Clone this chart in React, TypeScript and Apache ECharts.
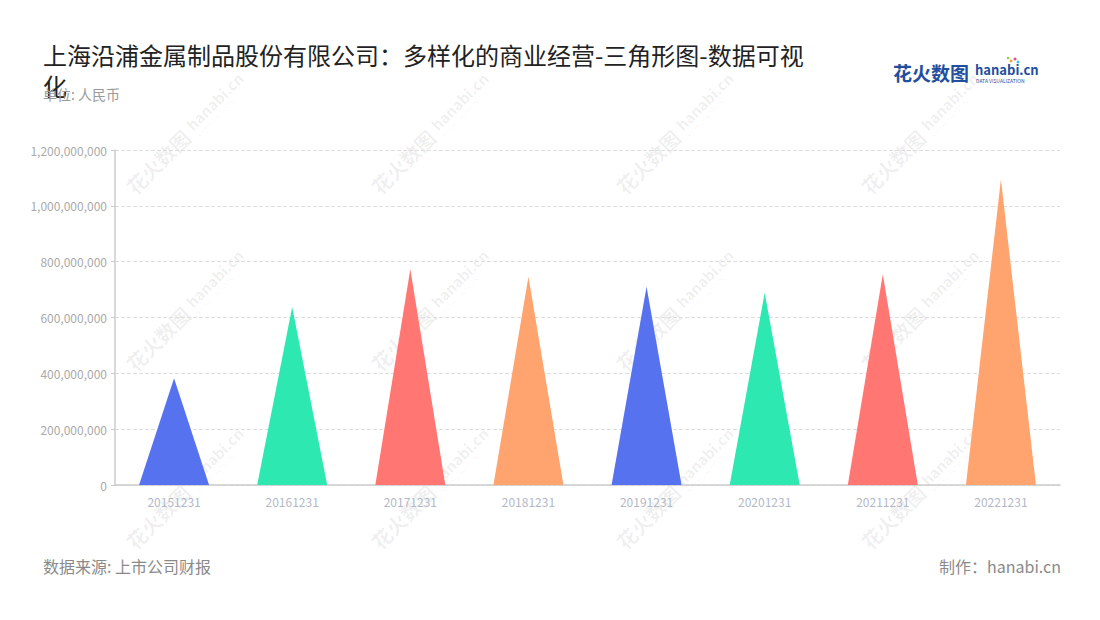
import { useEffect, useRef } from 'react';
import * as echarts from 'echarts';

// 报告期
const periods = ['20151231', '20161231', '20171231', '20181231', '20191231', '20201231', '20211231', '20221231'];
// 营业收入（元）
const revenue = [382000000, 638000000, 773000000, 746000000, 710000000, 689000000, 755000000, 1095000000];
// 三角形配色
const palette = ['#5772EF', '#2DE8B0', '#FF7672', '#FFA36F'];
// y 轴刻度
const yTicks = [0, 200000000, 400000000, 600000000, 800000000, 1000000000, 1200000000];

const FONT = '"Noto Sans CJK SC", "Noto Sans", sans-serif';

// 水印位置
const markCols = [185, 430, 675, 920];
const markRows = [135, 312, 490];

function watermark(cx: number, cy: number) {
  return {
    type: 'group',
    x: cx,
    y: cy,
    rotation: Math.PI / 4,
    silent: true,
    z: 0,
    children: [
      {
        type: 'text',
        x: -78,
        y: 0,
        style: {
          text: '花火数图',
          fontSize: 20,
          fontWeight: 'bold',
          fontFamily: FONT,
          fill: 'rgba(0,0,0,0.065)',
          verticalAlign: 'middle',
        },
      },
      {
        type: 'text',
        x: 8,
        y: -3,
        style: {
          text: 'hanabi.cn',
          fontSize: 15,
          fontWeight: 'bold',
          fontFamily: FONT,
          fill: 'rgba(0,0,0,0.065)',
          verticalAlign: 'middle',
        },
      },
      {
        type: 'text',
        x: 9,
        y: 9,
        style: {
          text: 'DATA VISUALIZATION',
          fontSize: 5,
          fontFamily: FONT,
          fill: 'rgba(0,0,0,0.065)',
          verticalAlign: 'middle',
        },
      },
    ],
  };
}

export default function App() {
  const chartRef = useRef<HTMLDivElement>(null);

  useEffect(() => {
    if (!chartRef.current) return;
    const chart = echarts.init(chartRef.current, null, { renderer: 'svg' });

    const marks: any[] = [];
    markRows.forEach(y => markCols.forEach(x => marks.push(watermark(x, y))));

    const option: any = {
      animation: false,
      backgroundColor: '#ffffff',
      title: [
        {
          text: '上海沿浦金属制品股份有限公司：多样化的商业经营-三角形图-数据可视化',
          left: 43,
          top: 39,
          padding: 0,
          textStyle: {
            fontSize: 24,
            fontWeight: 'normal',
            color: '#222222',
            fontFamily: FONT,
            width: 775,
            overflow: 'break',
            lineHeight: 31,
          },
        },
        {
          text: '单位: 人民币',
          left: 43,
          top: 87,
          padding: 0,
          textStyle: { fontSize: 14, fontWeight: 'normal', color: '#9a9a9a', fontFamily: FONT },
        },
        {
          text: '数据来源: 上市公司财报',
          left: 43,
          top: 558,
          padding: 0,
          textStyle: { fontSize: 16, fontWeight: 'normal', color: '#8a8a8a', fontFamily: FONT },
        },
        {
          text: '制作：hanabi.cn',
          right: 39,
          top: 558,
          padding: 0,
          textStyle: { fontSize: 16, fontWeight: 'normal', color: '#8a8a8a', fontFamily: FONT },
        },
      ],
      grid: {
        left: 115,
        right: 40,
        top: 150,
        bottom: 135,
        containLabel: false,
      },
      xAxis: {
        type: 'category',
        data: periods,
        axisLine: { lineStyle: { color: '#cccccc', width: 1.5 } },
        axisTick: { alignWithLabel: true, lineStyle: { color: '#cccccc' } },
        axisLabel: { color: '#b3b8c8', fontSize: 12, margin: 10, fontFamily: FONT },
      },
      yAxis: {
        type: 'value',
        min: yTicks[0],
        max: yTicks[yTicks.length - 1],
        interval: yTicks[1] - yTicks[0],
        axisLine: { show: true, lineStyle: { color: '#cccccc', width: 1.5 } },
        axisTick: { show: true, length: 4, lineStyle: { color: '#cccccc' } },
        axisLabel: {
          color: '#aaaaaa',
          fontSize: 12,
          margin: 8,
          fontFamily: FONT,
          formatter: (v: number) => v.toLocaleString('en-US'),
        },
        splitLine: { lineStyle: { color: '#dddddd', type: 'dashed' } },
      },
      series: [
        {
          type: 'pictorialBar',
          symbol: 'triangle',
          symbolSize: [70, '100%'],
          z: 5,
          data: revenue.map((v, i) => ({
            value: v,
            itemStyle: { color: palette[i % palette.length] },
          })),
        },
      ],
      graphic: [
        ...marks,
        {
          type: 'text',
          x: 893,
          y: 72,
          style: {
            text: '花火数图',
            fontSize: 19,
            fontWeight: 'bold',
            fontFamily: FONT,
            fill: '#1f4f9e',
            verticalAlign: 'middle',
          },
        },
        {
          type: 'text',
          x: 975,
          y: 69,
          style: {
            text: 'hanabi.cn',
            fontSize: 13,
            fontWeight: 'bold',
            fontFamily: FONT,
            fill: '#1f4f9e',
            verticalAlign: 'middle',
          },
        },
        {
          type: 'text',
          x: 976,
          y: 80,
          style: {
            text: 'DATA VISUALIZATION',
            fontSize: 5,
            fontFamily: FONT,
            fill: '#1f4f9e',
            verticalAlign: 'middle',
          },
        },
        { type: 'circle', shape: { cx: 1011, cy: 61, r: 1.5 }, style: { fill: '#f5a623' } },
        { type: 'circle', shape: { cx: 1015, cy: 59, r: 1.5 }, style: { fill: '#e94b8a' } },
        { type: 'circle', shape: { cx: 1018, cy: 62, r: 1.5 }, style: { fill: '#3cc6e8' } },
        { type: 'circle', shape: { cx: 1008, cy: 58, r: 1.2 }, style: { fill: '#7ed321' } },
      ],
    };

    chart.setOption(option);
    return () => {
      chart.dispose();
    };
  }, []);

  return (
    <div
      ref={chartRef}
      style={{ position: 'fixed', left: 0, top: 0, width: 1100, height: 620 }}
    />
  );
}
